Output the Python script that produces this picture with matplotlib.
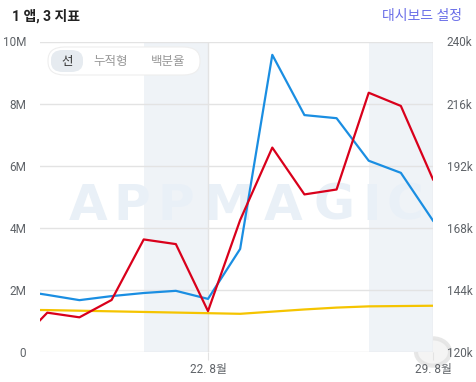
import datetime as dt
import numpy as np
import matplotlib
matplotlib.use('Agg')
import matplotlib.pyplot as plt
import matplotlib.dates as mdates
from matplotlib.patches import FancyBboxPatch, Circle

plt.rcParams['font.family'] = ['Roboto', 'Noto Sans CJK KR', 'DejaVu Sans']

# data, Aug 16 .. Aug 29
days = ['2022-08-16', '2022-08-17', '2022-08-18', '2022-08-19', '2022-08-20',
        '2022-08-21', '2022-08-22', '2022-08-23', '2022-08-24', '2022-08-25',
        '2022-08-26', '2022-08-27', '2022-08-28', '2022-08-29']
blue_m = [2.00, 1.84, 1.67, 1.80, 1.90, 1.97, 1.71, 3.32, 9.57, 7.63, 7.53, 6.16, 5.77, 4.23]
yellow_m = [1.36, 1.35, 1.33, 1.31, 1.29, 1.27, 1.25, 1.23, 1.30, 1.37, 1.43, 1.47, 1.48, 1.49]
red_k = [122.3, 135.2, 133.4, 140.1, 163.5, 161.7, 135.8, 171.0, 199.0, 180.9, 182.8, 220.2, 215.1, 186.7]
weekends = [('2022-08-20', '2022-08-22'), ('2022-08-27', '2022-08-29')]
left_ticks = [0, 2, 4, 6, 8, 10]
left_labels = ['0', '2M', '4M', '6M', '8M', '10M']
right_ticks = [120, 144, 168, 192, 216, 240]
right_labels = ['120k', '144k', '168k', '192k', '216k', '240k']
xtick_days = ['2022-08-22', '2022-08-29']
xtick_labels = ['22. 8월', '29. 8월']

dates = [dt.datetime.strptime(d, '%Y-%m-%d') for d in days]
W, H = 476, 382
fig = plt.figure(figsize=(W / 100, H / 100), dpi=100)
ax = fig.add_axes([40 / W, 30 / H, 393 / W, 310.5 / H])
ax2 = ax.twinx()

tick_col = '#5f6368'
grid_col = '#e3e3e3'

for a, b in weekends:
    ax.axvspan(dt.datetime.strptime(a, '%Y-%m-%d'), dt.datetime.strptime(b, '%Y-%m-%d'),
               color='#eff3f7', zorder=0, lw=0)

# watermark
wm_x = [88, 132, 176, 228, 283, 334, 372, 405]
for ch, px in zip('APPMAGIC', wm_x):
    ax.text(px / W, 1 - 206 / H, ch, fontsize=36, fontweight='bold', color='#e9f0f7',
            ha='center', va='center', family='DejaVu Sans', zorder=0.5,
            transform=fig.transFigure)

ax.set_ylim(0, 10)
ax2.set_ylim(120, 240)
x0 = dt.datetime(2022, 8, 22) - dt.timedelta(days=168 / 32.14)
ax.set_xlim(x0, dt.datetime(2022, 8, 29))

for y in left_ticks:
    ax.axhline(y, color=grid_col, lw=1, zorder=1)
ax.axvline(dt.datetime(2022, 8, 22), color=grid_col, lw=1, zorder=1)
ax.axvline(dt.datetime(2022, 8, 29), color=grid_col, lw=1, zorder=1)

ax.plot(dates, yellow_m, color='#f5c400', lw=1.6, zorder=3)
ax.plot(dates, blue_m, color='#1a8ee2', lw=1.6, zorder=3)
ax2.plot(dates, red_k, color='#d9001b', lw=1.6, zorder=3)

for a in (ax, ax2):
    for s in a.spines.values():
        s.set_visible(False)
    a.patch.set_visible(False)
ax.set_zorder(2)
ax2.set_zorder(3)

ax.set_yticks(left_ticks)
ax.set_yticklabels(left_labels)
ax2.set_yticks(right_ticks)
ax2.set_yticklabels(right_labels)
ax.set_xticks([dt.datetime.strptime(d, '%Y-%m-%d') for d in xtick_days])
ax.set_xticklabels(xtick_labels)
ax.tick_params(axis='y', length=0, pad=10, labelsize=8.5, labelcolor=tick_col)
ax2.tick_params(axis='y', length=0, pad=10, labelsize=8.5, labelcolor=tick_col)
ax.tick_params(axis='x', length=6, color=grid_col, pad=2, labelsize=8.5, labelcolor=tick_col)

# header
fig.text(12 / W, 1 - 16 / H, '1 앱, 3 지표', fontsize=10, fontweight='bold', color='#222222',
         va='center', ha='left')
fig.text(462 / W, 1 - 16 / H, '대시보드 설정', fontsize=10, color='#6a6ee8', va='center', ha='right')

# toggle pill
fig.patches.append(FancyBboxPatch((48 / W, 1 - 75 / H), 152 / W, 28 / H,
                                  boxstyle='round,pad=0,rounding_size=0.035',
                                  transform=fig.transFigure, fc='white', ec='#eeeeee', lw=0.8,
                                  zorder=4))
fig.patches.append(FancyBboxPatch((51 / W, 1 - 72 / H), 32 / W, 22 / H,
                                  boxstyle='round,pad=0,rounding_size=0.025',
                                  transform=fig.transFigure, fc='#e6ebf0', ec='none', zorder=5))
fig.text(67 / W, 1 - 61 / H, '선', fontsize=9, color='#333333', ha='center', va='center', zorder=6)
fig.text(111 / W, 1 - 61 / H, '누적형', fontsize=9, color='#999999', ha='center', va='center', zorder=6)
fig.text(168 / W, 1 - 61 / H, '백분율', fontsize=9, color='#999999', ha='center', va='center', zorder=6)

# faint logo bottom-right
fig.patches.append(Circle((433 / W, 1 - 352 / H), 17 / W, transform=fig.transFigure,
                          fc='#f2f2f2', ec='#e2e2e2', lw=3, zorder=1, alpha=0.8))

fig.savefig('out.png', dpi=100)
